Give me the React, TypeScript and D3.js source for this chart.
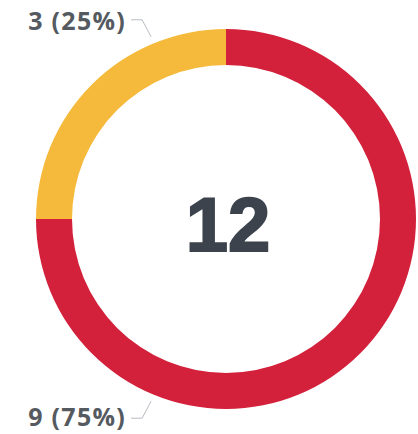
import React from "react";
import * as d3 from "d3";

const categories = ["A", "B"];
const values = [9, 3];
const colors = ["#d3213b", "#f5ba3b"];
const total = values.reduce((a, b) => a + b, 0);
const labels = values.map((v) => `${v} (${Math.round((v / total) * 100)}%)`);

export default function App() {
  const width = 418;
  const height = 434;
  const cx = 226;
  const cy = 219;
  const outer = 190;
  const inner = 154;
  const pie = d3.pie<number>().sort(null).value((d) => d)(values);
  const arc = d3.arc<d3.PieArcDatum<number>>().innerRadius(inner).outerRadius(outer);
  // label anchor angles (radians, clockwise from top)
  const labelAngles = [Math.PI + 0.39, -0.39];
  return (
    <svg width={width} height={height} style={{ position: "absolute", left: 0, top: 0 }}>
      <g transform={`translate(${cx},${cy})`}>
        {pie.map((p, i) => (
          <path key={categories[i]} d={arc(p) || ""} fill={colors[i]} />
        ))}
        {pie.map((p, i) => {
          const a = labelAngles[i];
          const r = outer + 7;
          const x1 = Math.sin(a) * r;
          const y1 = -Math.cos(a) * r;
          const below = y1 > 0;
          const x2 = x1 - 9;
          const y2 = y1 + (below ? 17 : -17);
          const x3 = x2 - 11;
          return (
            <g key={"l" + i}>
              <polyline
                points={`${x1},${y1} ${x2},${y2} ${x3},${y2}`}
                fill="none"
                stroke="#b8bcc2"
                strokeWidth={1}
              />
              <text
                x={x3 - 5}
                y={below ? y2 - 1.5 : y2 + 1.5}
                dy="0.36em"
                textAnchor="end"
                fontFamily="'Open Sans', sans-serif"
                fontWeight={700}
                fontSize={25}
                letterSpacing={1.3}
                fill="#555a60"
              >
                {labels[i]}
              </text>
            </g>
          );
        })}
        <text
          x={2}
          y={5}
          dy="0.36em"
          textAnchor="middle"
          fontFamily="'Liberation Sans', Arial, sans-serif"
          fontWeight={700}
          fontSize={76}
          fill="#3c434d"
          stroke="#3c434d"
          strokeWidth={2}
        >
          {total}
        </text>
      </g>
    </svg>
  );
}
